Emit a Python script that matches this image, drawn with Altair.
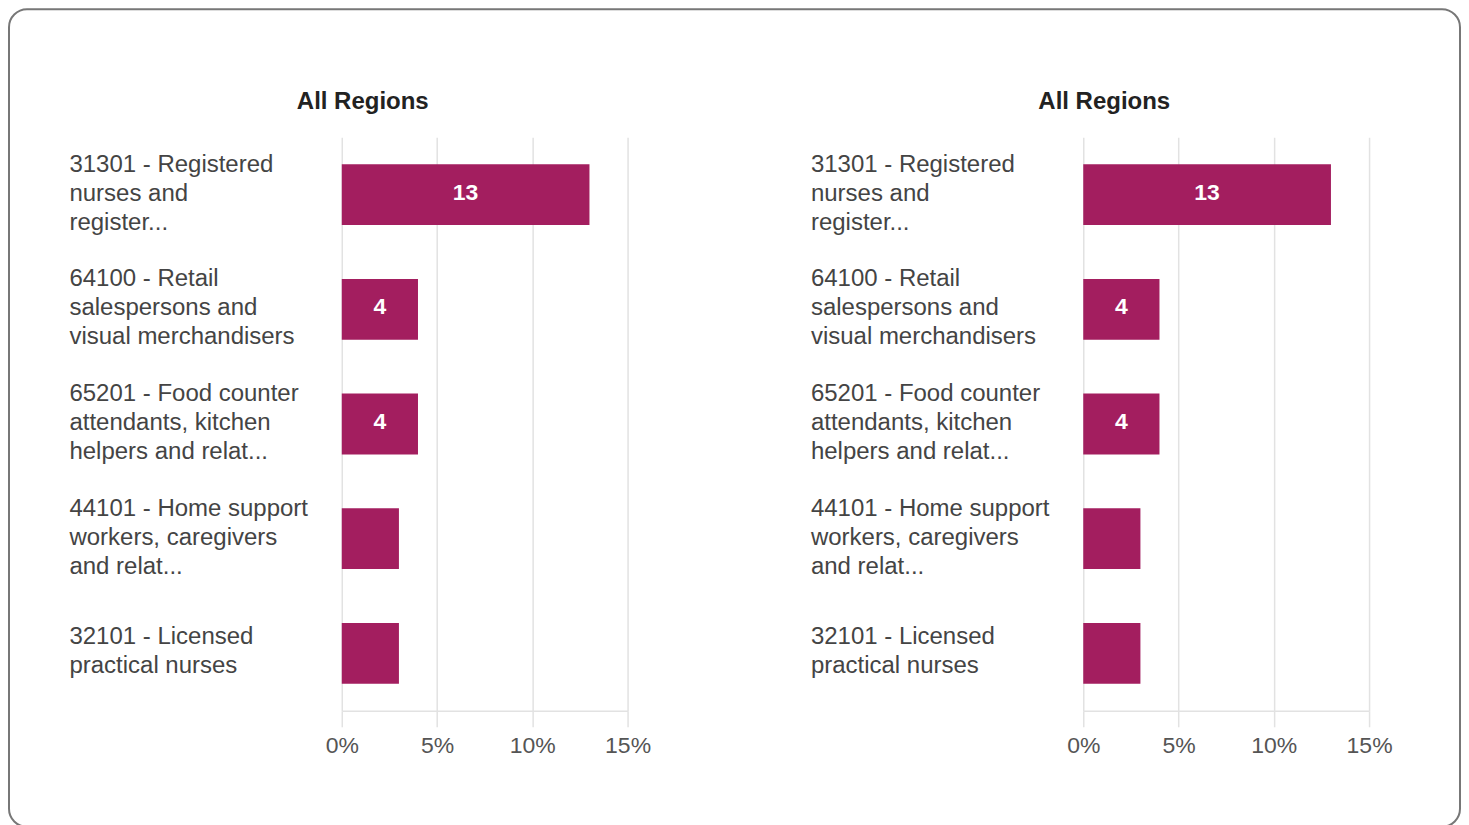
import altair as alt
import pandas as pd

# ---- data -----------------------------------------------------------------
panel_titles = ["All Regions", "All Regions"]
occupations = [
    "31301 - Registered|nurses and|register...",
    "64100 - Retail|salespersons and|visual merchandisers",
    "65201 - Food counter|attendants, kitchen|helpers and relat...",
    "44101 - Home support|workers, caregivers|and relat...",
    "32101 - Licensed|practical nurses",
]
shares = [13, 4, 4, 3, 3]
tick_values = [0, 5, 10, 15]

# ---- style / layout ---------------------------------------------------------
FONT = "Liberation Sans"
BAR = "#a31e5f"
GRID = "#e2e2e2"
W, H = 1454, 830
Y_RANGE = [128, 702]
X_RANGES = [[334, 620], [1076, 1362]]
TITLE_X = [355, 1097]
LABEL_PAD = 273

df = pd.DataFrame({"occupation": occupations, "share": shares})


def panel(i):
    xr = X_RANGES[i]
    xscale = alt.Scale(domain=[0, 15], range=xr, nice=False, zero=True)
    yscale = alt.Scale(range=Y_RANGE, paddingInner=0.47, paddingOuter=0.235)

    x_axis = alt.Axis(
        orient="bottom", values=tick_values, title=None, grid=True,
        gridColor=GRID, gridWidth=1.5, domainColor=GRID, domainWidth=1.5,
        tickColor=GRID, tickWidth=1.5, tickSize=16, labelPadding=8,
        labelFlush=False,
        offset=Y_RANGE[1] - H, labelExpr="datum.value + '%'",
        labelFont=FONT, labelFontSize=23, labelColor="#555",
    )
    y_axis = alt.Axis(
        orient="left", title=None, domain=False, ticks=False, tickSize=0,
        grid=False, labelAlign="left", labelBaseline="middle",
        labelPadding=LABEL_PAD, offset=-xr[0],
        labelOffset={
            "condition": {
                "test": "length(split(datum.value, '|')) > 2",
                "value": -30,
            },
            "value": -16,
        },
        labelExpr="split(datum.label, '|')", labelFont=FONT,
        labelFontSize=24, labelColor="#444", labelLineHeight=29,
        labelLimit=0,
    )

    bars = alt.Chart(df).mark_bar(color=BAR).encode(
        x=alt.X("share:Q", scale=xscale, axis=x_axis),
        y=alt.Y("occupation:N", sort=occupations, scale=yscale, axis=y_axis),
    )
    values = (
        alt.Chart(df)
        .transform_filter("datum.share >= 4")
        .transform_calculate(mid="datum.share / 2")
        .mark_text(color="white", font=FONT, fontSize=23, fontWeight="bold",
                   baseline="middle", align="center", dy=-2)
        .encode(
            x=alt.X("mid:Q", scale=xscale, axis=x_axis),
            y=alt.Y("occupation:N", sort=occupations, scale=yscale,
                    axis=y_axis),
            text=alt.Text("share:Q"),
        )
    )
    title = (
        alt.Chart(pd.DataFrame({"t": [panel_titles[i]]}))
        .mark_text(font=FONT, fontSize=24, fontWeight="bold", color="#222",
                   align="center", baseline="middle")
        .encode(x=alt.value(TITLE_X[i]), y=alt.value(93), text="t:N")
    )
    return alt.layer(bars, values, title)


border = (
    alt.Chart(pd.DataFrame({"b": [0]}))
    .mark_rect(fill="white", fillOpacity=0, stroke="#777777", strokeWidth=2,
               cornerRadius=18)
    .encode(x=alt.value(1), x2=alt.value(W - 1), y=alt.value(0),
            y2=alt.value(818))
)

chart = (
    alt.layer(border, panel(0), panel(1))
    .resolve_scale(x="independent", y="independent")
    .properties(width=W, height=H, padding=0)
    .configure_view(stroke=None)
)

chart.save("out.html", embed_options={"renderer": "svg", "actions": False})
